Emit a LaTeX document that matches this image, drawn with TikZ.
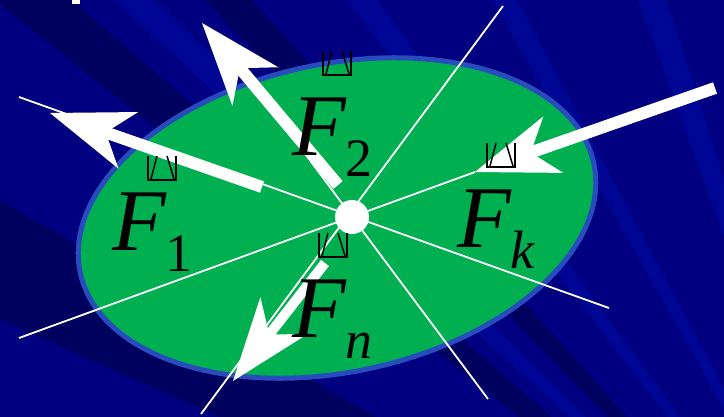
\documentclass[tikz,border=0pt]{standalone}
\usepackage{fontspec}
\setmainfont{Liberation Serif}
\usepackage{tikz}
\usetikzlibrary{shapes.geometric, arrows.meta}
\definecolor{BgNavy}{RGB}{0,0,128}
\definecolor{BgDark}{RGB}{0,0,95}
\definecolor{BgLight}{RGB}{0,6,148}
\definecolor{DiskGreen}{RGB}{0,176,80}
\definecolor{DiskRim}{RGB}{40,75,190}

\newcommand{\forcelabel}[1]{\fontsize{88}{88}\selectfont\itshape
  F\raisebox{-21pt}{\fontsize{54}{54}\selectfont #1}}

\begin{document}
\begin{tikzpicture}[x=1pt, y=-1pt,
          ray/.style={white, line width=1.8pt},
          force/.style={white, line width=12pt,
            -{Stealth[length=83pt, width=60pt, inset=24pt, line width=0pt]}},
          lbl/.style={anchor=base west, inner sep=0pt, text=black},
          vecmark/.pic={
            \draw[black, line width=1.8pt] (-14,-12)--(-14,12)--(14,12)--(14,-12);
            \draw[black, line width=1.5pt] (-11,11)--(-5,-12) (5,-12)--(12,11);
          }
        ]
        \useasboundingbox (0,0) rectangle (724,416);
        \clip (-6,-6) rectangle (730,422);

        % Background streaks
        \fill[BgNavy] (-6,-6) rectangle (730,422);
        \foreach \a/\b/\col in {
          139/141.5/BgDark,
          136/137.5/BgLight,
          132/134/BgDark,
          126/127.5/BgLight,
          118/119.5/BgLight,
          108/110/BgLight,
          150/156/BgDark} {
          \fill[fill=\col] (900,720) -- +(-\a:1500) -- +(-\b:1500) -- cycle;
        }
        \fill[white] (72,-6) rectangle (80,4);

        % Body
        \node[ellipse, rotate=12, draw=DiskRim, fill=DiskGreen, line width=5pt,
              minimum width=525pt, minimum height=308pt, inner sep=0pt]
              (disk) at (337,218) {};

        % Lines of action
        \coordinate (l1a) at (19,97);   \coordinate (l1b) at (609,308);
        \coordinate (l2a) at (503,6);   \coordinate (l2b) at (201,414);
        \coordinate (l3a) at (19,338);  \coordinate (l4a) at (300,147);
        \coordinate (l4b) at (488,399);
        \coordinate (f1s) at (262,187); \coordinate (f1e) at (50,113);
        \coordinate (f2s) at (338,185); \coordinate (f2e) at (202,23);
        \coordinate (fks) at (715,88);  \coordinate (fke) at (475,172);
        \coordinate (fns) at (325,263); \coordinate (fne) at (233,381);
        \draw[ray] (l1a) -- (l1b);
        \draw[ray] (l2a) -- (l2b);
        \draw[ray] (l3a) -- (fke);
        \draw[ray] (l4a) -- (l4b);

        % Forces
        \draw[force] (f1s) -- (f1e);
        \draw[force] (f2s) -- (f2e);
        \draw[force] (fks) -- (fke);
        \draw[force, line width=10pt] (fns) -- (fne);

        \node[circle, fill=white, minimum size=34pt, inner sep=0pt]
              (pt) at (352,217) {};

        % Labels
        \pic at (162,168) {vecmark};
        \pic at (337,63) {vecmark};
        \pic at (501,155) {vecmark};
        \pic at (333,245) {vecmark};
        \node[lbl] (lbl1) at (112,250) {\forcelabel{\upshape 1}};
        \node[lbl] (lbl2) at (292,155) {\forcelabel{\upshape 2}};
        \node[lbl] (lblk) at (457,247) {\forcelabel{k}};
        \node[lbl] (lbln) at (292,337) {\forcelabel{n}};
      \end{tikzpicture}
\end{document}
